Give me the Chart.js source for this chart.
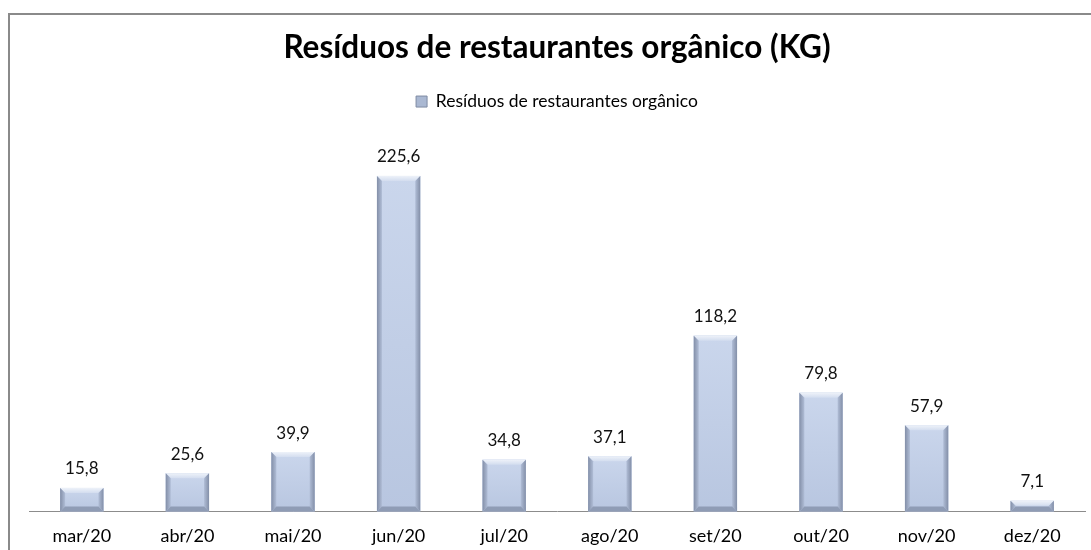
<!DOCTYPE html>
<html>
<head>
<meta charset="utf-8">
<script src="https://cdn.jsdelivr.net/npm/chart.js@4/dist/chart.umd.min.js"></script>
<style>
  html, body { margin: 0; padding: 0; background: #fff; overflow: hidden; }
  #wrap { position: relative; width: 1091px; height: 550px; overflow: hidden; }
  canvas { position: absolute; left: 0; top: 0; }
</style>
</head>
<body>
<div id="wrap">
  <canvas id="chart" width="1091" height="563"></canvas>
</div>
<script>
var months = ['mar/20', 'abr/20', 'mai/20', 'jun/20', 'jul/20', 'ago/20', 'set/20', 'out/20', 'nov/20', 'dez/20'];
var residuos = [15.8, 25.6, 39.9, 225.6, 34.8, 37.1, 118.2, 79.8, 57.9, 7.1];
var seriesName = 'Resíduos de restaurantes orgânico';
var chartTitle = 'Resíduos de restaurantes orgânico (KG)';

var fontFamily = 'Lato, "Open Sans", sans-serif';

// outer frame of the chart object (only top and left edges are visible)
var framePlugin = {
    id: 'frame',
    beforeDraw: function(chart) {
        var ctx = chart.ctx;
        ctx.save();
        ctx.strokeStyle = '#8a8a8a';
        ctx.lineWidth = 2;
        ctx.beginPath();
        ctx.moveTo(9, chart.height);
        ctx.lineTo(9, 14);
        ctx.lineTo(chart.width, 14);
        ctx.stroke();
        ctx.restore();
    }
};

// bevel look like the office chart
var bevelPlugin = {
    id: 'bevel',
    afterDatasetsDraw: function(chart) {
        var ctx = chart.ctx;
        chart.getDatasetMeta(0).data.forEach(function(bar) {
            var l = bar.x - bar.width / 2, r = bar.x + bar.width / 2;
            var t = bar.y, b = bar.base;
            var h = b - t;
            var bv = Math.min(5, h / 2);
            ctx.save();
            var face = ctx.createLinearGradient(0, t, 0, b);
            face.addColorStop(0, '#cad6ec');
            face.addColorStop(1, '#b8c6e0');
            ctx.fillStyle = face;
            ctx.fillRect(l, t, r - l, h);
            // top edge
            ctx.beginPath();
            ctx.moveTo(l, t); ctx.lineTo(r, t); ctx.lineTo(r - bv, t + bv); ctx.lineTo(l + bv, t + bv); ctx.closePath();
            var tg = ctx.createLinearGradient(0, t, 0, t + bv);
            tg.addColorStop(0, '#eef2f9');
            tg.addColorStop(1, '#d3ddef');
            ctx.fillStyle = tg; ctx.fill();
            // left edge
            ctx.beginPath();
            ctx.moveTo(l, t); ctx.lineTo(l + bv, t + bv); ctx.lineTo(l + bv, b - bv); ctx.lineTo(l, b); ctx.closePath();
            var lg = ctx.createLinearGradient(l, 0, l + bv, 0);
            lg.addColorStop(0, '#838fa8');
            lg.addColorStop(1, '#b0bdd6');
            ctx.fillStyle = lg; ctx.fill();
            // right edge
            ctx.beginPath();
            ctx.moveTo(r, t); ctx.lineTo(r - bv, t + bv); ctx.lineTo(r - bv, b - bv); ctx.lineTo(r, b); ctx.closePath();
            var rg = ctx.createLinearGradient(r, 0, r - bv, 0);
            rg.addColorStop(0, '#838fa8');
            rg.addColorStop(1, '#b0bdd6');
            ctx.fillStyle = rg; ctx.fill();
            // bottom edge
            ctx.beginPath();
            ctx.moveTo(l, b); ctx.lineTo(r, b); ctx.lineTo(r - bv, b - bv); ctx.lineTo(l + bv, b - bv); ctx.closePath();
            ctx.fillStyle = '#8f9cb5'; ctx.fill();
            ctx.restore();
        });
    }
};

var labelPlugin = {
    id: 'valueLabels',
    afterDatasetsDraw: function(chart) {
        var ctx = chart.ctx;
        ctx.save();
        ctx.font = '17px ' + fontFamily;
        ctx.fillStyle = '#111';
        ctx.textAlign = 'center';
        ctx.textBaseline = 'middle';
        chart.getDatasetMeta(0).data.forEach(function(bar, i) {
            ctx.fillText(residuos[i].toFixed(1).replace('.', ','), bar.x, bar.y - 19);
        });
        ctx.restore();
    }
};

new Chart(document.getElementById('chart'), {
    type: 'bar',
    data: {
        labels: months,
        datasets: [{
            label: seriesName,
            data: residuos,
            backgroundColor: '#c3d0e8',
            borderWidth: 0,
            barPercentage: 0.41,
            categoryPercentage: 1
        }]
    },
    options: {
        responsive: false,
        animation: false,
        layout: { padding: { left: 29, right: 6, top: 0, bottom: 2 } },
        plugins: {
            title: {
                display: true,
                text: chartTitle,
                color: '#000',
                font: { family: fontFamily, size: 31.5, weight: 'bold' },
                padding: { top: 29, bottom: 16 }
            },
            legend: {
                display: true,
                labels: {
                    color: '#000',
                    font: { family: fontFamily, size: 17.5 },
                    boxWidth: 11,
                    boxHeight: 11,
                    generateLabels: function(chart) {
                        return [{
                            text: seriesName,
                            fillStyle: '#aab8d2',
                            strokeStyle: '#7e8aa3',
                            lineWidth: 1,
                            datasetIndex: 0
                        }];
                    }
                }
            },
            tooltip: { enabled: false }
        },
        scales: {
            x: {
                grid: { display: false, drawTicks: false },
                border: { display: true, color: '#8c8c8c', width: 1 },
                ticks: { color: '#000', font: { family: fontFamily, size: 18 }, padding: 14 }
            },
            y: {
                display: false,
                min: 0,
                max: 263
            }
        }
    },
    plugins: [framePlugin, bevelPlugin, labelPlugin]
});
</script>
</body>
</html>
